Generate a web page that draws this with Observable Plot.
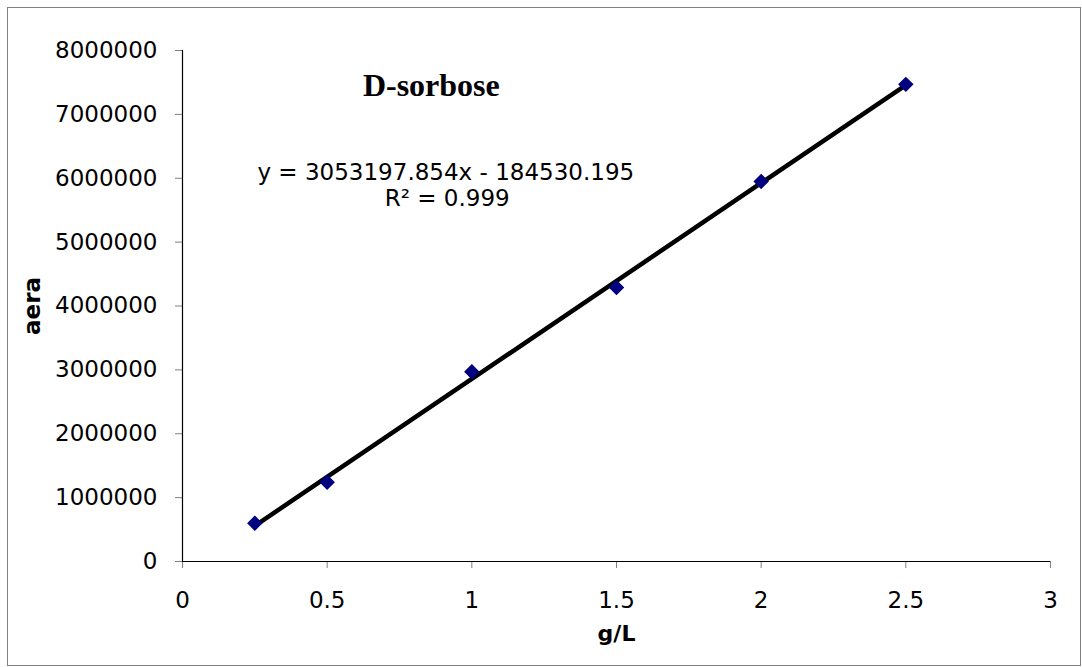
<!DOCTYPE html>
<html>
<head>
<meta charset="utf-8">
<script src="https://cdn.jsdelivr.net/npm/d3@7"></script>
<script src="https://cdn.jsdelivr.net/npm/@observablehq/plot@0.6"></script>
<style>
  html, body { margin: 0; padding: 0; background: #fff; }
  #chart { width: 1082px; height: 667px; }
</style>
</head>
<body>
<div id="chart"></div>
<script>
// Data
const concentration = [0.25, 0.5, 1.0, 1.5, 2.0, 2.5];          // g/L
const area = [600000, 1240000, 2970000, 4290000, 5950000, 7470000]; // aera
const xTicks = [0, 0.5, 1, 1.5, 2, 2.5, 3];
const yTicks = [0, 1000000, 2000000, 3000000, 4000000, 5000000, 6000000, 7000000, 8000000];
const titleText = "D-sorbose";
const equationText = "y = 3053197.854x - 184530.195";
const r2Text = "R² = 0.999";
const xLabel = "g/L";
const yLabel = "aera";

const data = concentration.map((c, i) => ({c, a: area[i]}));
const sans = "'DejaVu Sans', 'Liberation Sans', Arial, sans-serif";

const chart = Plot.plot({
  width: 1082,
  height: 667,
  marginLeft: 182,
  marginRight: 32,
  marginTop: 50,
  marginBottom: 106,
  style: {fontFamily: sans, fontSize: "23px", color: "#000", background: "#fff"},
  x: {domain: [0, 3], ticks: xTicks, tickFormat: d => String(d), label: null},
  y: {domain: [0, 8000000], ticks: yTicks, tickFormat: d => String(d), label: null},
  marks: [
    Plot.axisX({ticks: xTicks, tickFormat: d => String(d), tickSize: 7, tickPadding: 23, stroke: "#808080", fill: "#000", label: null}),
    Plot.axisY({ticks: yTicks, tickFormat: d => String(d), tickSize: 7, tickPadding: 18, stroke: "#808080", fill: "#000", label: null}),
    Plot.ruleX([0], {stroke: "#000", strokeWidth: 1.2}),
    Plot.ruleY([0], {stroke: "#000", strokeWidth: 1.2}),
    Plot.linearRegressionY(data, {x: "c", y: "a", stroke: "#000", strokeWidth: 4.5, ci: 0}),
    Plot.dot(data, {x: "c", y: "a", symbol: "diamond2", r: 6, fill: "#000080", stroke: "#000080"}),
    Plot.text([titleText], {x: 0.86, y: 7450000, text: d => d, fontFamily: "'Liberation Serif', 'Times New Roman', serif", fontWeight: "bold", fontSize: 32, fill: "#000"}),
    Plot.text([equationText], {x: 0.91, y: 6090000, text: d => d, fontSize: 23, fill: "#000"}),
    Plot.text([r2Text], {x: 0.915, y: 5680000, text: d => d, fontSize: 23, fill: "#000"}),
    Plot.text([xLabel], {x: 1.5, y: 0, dy: 72, text: d => d, fontWeight: "bold", fontSize: 22, fill: "#000"}),
    Plot.text([yLabel], {x: 0, y: 4000000, dx: -150, rotate: -90, text: d => d, fontWeight: "bold", fontSize: 23, fill: "#000"})
  ]
});

const svg = d3.select(chart);
svg.append("rect")
  .attr("x", 7.5).attr("y", 7.5)
  .attr("width", 1073).attr("height", 658)
  .attr("fill", "none").attr("stroke", "#808080").attr("stroke-width", 1);

document.getElementById("chart").appendChild(chart);
</script>
</body>
</html>
